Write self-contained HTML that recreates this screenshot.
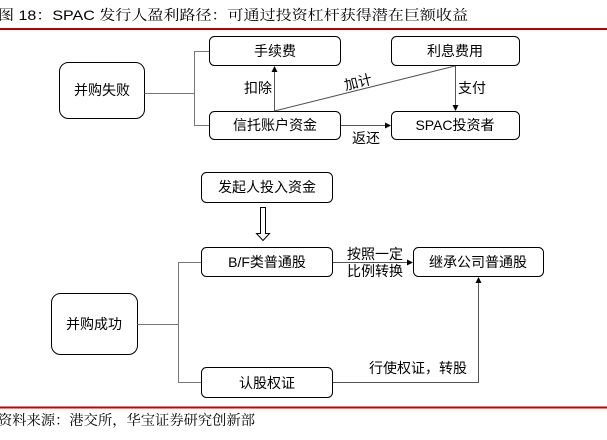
<!DOCTYPE html>
<html><head><meta charset="utf-8"><style>
html,body{margin:0;padding:0;background:#fff;}
svg{display:block;}
text{font-family:"Liberation Sans","Noto Sans CJK SC",sans-serif;font-size:14px;fill:#000;}
.t{font-family:"Liberation Sans","Noto Serif CJK SC",serif;}
</style></head><body>
<svg width="607" height="440" viewBox="0 0 607 440" xmlns="http://www.w3.org/2000/svg">
<defs>
<marker id="a" markerWidth="6" markerHeight="6" refX="5" refY="3" orient="auto" markerUnits="userSpaceOnUse"><path d="M0,0 L6,3 L0,6 z" fill="#000"/></marker>
</defs>
<text class="t" x="-2" y="20" font-size="15" textLength="470" lengthAdjust="spacingAndGlyphs">图 18：SPAC 发行人盈利路径：可通过投资杠杆获得潜在巨额收益</text>
<rect x="0" y="28" width="607" height="2" fill="#c00000"/>
<g fill="none" stroke="#000" stroke-width="1">
<rect x="209.5" y="36.5" width="131" height="29" rx="5"/>
<rect x="391.5" y="36.5" width="128" height="29" rx="5"/>
<rect x="59.5" y="62.5" width="85" height="56" rx="9"/>
<rect x="209.5" y="111.5" width="131" height="28" rx="5"/>
<rect x="391.5" y="111.5" width="128" height="28" rx="5"/>
<rect x="201.5" y="172.5" width="131" height="30" rx="5"/>
<rect x="201.5" y="247.5" width="131" height="29" rx="5"/>
<rect x="413.5" y="247.5" width="130" height="29" rx="5"/>
<rect x="51.5" y="293.5" width="86" height="61" rx="9"/>
<rect x="201.5" y="367.5" width="131" height="30" rx="5"/>
</g>
<g fill="none" stroke="#777" stroke-width="1">
<path d="M144.5,93.5 H194.5 M209,51.5 H194.5 V125.5 H209"/>
<path d="M137.5,324.5 H178.5 M201,262.5 H178.5 V382.5 H201"/>
</g>
<g fill="none" stroke="#555" stroke-width="1">
<line x1="274.5" y1="111" x2="274.5" y2="67" marker-end="url(#a)"/>
<line x1="274.5" y1="111" x2="455" y2="66"/>
<line x1="455.5" y1="66" x2="455.5" y2="110" marker-end="url(#a)"/>
<line x1="341" y1="125.5" x2="390" y2="125.5" marker-end="url(#a)"/>
<line x1="333" y1="262.5" x2="412" y2="262.5" marker-end="url(#a)"/>
<path d="M333,382.5 H478.5 V278" marker-end="url(#a)"/>
</g>
<path d="M260.5,207.5 h5 v26 h4 l-6.5,7 l-6.5,-7 h4 z" fill="#fff" stroke="#000" stroke-width="1"/>
<text x="275" y="56" text-anchor="middle">手续费</text>
<text x="455" y="56" text-anchor="middle">利息费用</text>
<text x="102" y="95" text-anchor="middle">并购失败</text>
<text x="275" y="130" text-anchor="middle">信托账户资金</text>
<text x="455" y="130" text-anchor="middle">SPAC投资者</text>
<text x="258" y="93" text-anchor="middle">扣除</text>
<text x="358" y="87" text-anchor="middle" transform="rotate(-14 358 82)">加计</text>
<text x="472" y="93" text-anchor="middle">支付</text>
<text x="366" y="143" text-anchor="middle">返还</text>
<text x="267" y="192" text-anchor="middle">发起人投入资金</text>
<text x="267" y="267" text-anchor="middle">B/F类普通股</text>
<text x="478" y="267" text-anchor="middle">继承公司普通股</text>
<text x="94" y="329" text-anchor="middle">并购成功</text>
<text x="267" y="388" text-anchor="middle">认股权证</text>
<text x="375" y="259" text-anchor="middle">按照一定</text>
<text x="375" y="276" text-anchor="middle">比例转换</text>
<text x="418" y="373" text-anchor="middle">行使权证，转股</text>
<rect x="0" y="406.5" width="607" height="2" fill="#c00000"/>
<text class="t" x="-2" y="425" font-size="14" textLength="257" lengthAdjust="spacingAndGlyphs">资料来源：港交所，华宝证券研究创新部</text>
</svg>
</body></html>
